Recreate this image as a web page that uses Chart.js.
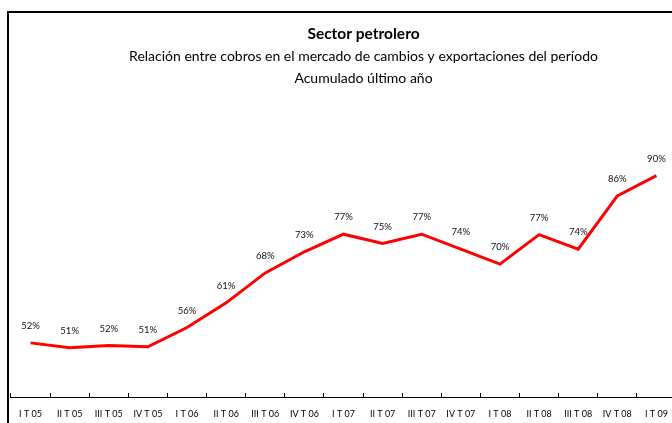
<!DOCTYPE html>
<html>
<head>
<meta charset="utf-8">
<script src="https://cdn.jsdelivr.net/npm/chart.js@4"></script>
<style>
  html, body { margin: 0; padding: 0; background: #fff; overflow: hidden; width: 672px; height: 423px; }
  canvas { position: absolute; left: 0; top: 0; }
  #frame { position: absolute; left: 7px; top: 11px; width: 800px; height: 600px;
           border-left: 2px solid #000; border-top: 2px solid #000; pointer-events: none; }
</style>
</head>
<body>
<canvas id="chart" width="720" height="423"></canvas>
<div id="frame"></div>
<script>
const quarters = ['I T 05', 'II T 05', 'III T 05', 'IV T 05', 'I T 06', 'II T 06', 'III T 06', 'IV T 06',
  'I T 07', 'II T 07', 'III T 07', 'IV T 07', 'I T 08', 'II T 08', 'III T 08', 'IV T 08', 'I T 09'];
// cobros / exportaciones, %
const ratio = [52.3, 51.2, 51.7, 51.4, 55.8, 61.4, 68.2, 73.0, 77.0, 74.9, 77.0, 73.6, 70.2, 76.9, 73.6, 85.7, 90.3];

const titleText = 'Sector petrolero';
const subtitleLines = ['Relación entre cobros en el mercado de cambios y exportaciones del período', 'Acumulado último año'];

const FONT = 'Lato, "Open Sans", sans-serif';

// titles, centred on the chart box (wider than the visible window)
const titles = {
  id: 'titles',
  afterDraw(chart) {
    const ctx = chart.ctx;
    ctx.save();
    ctx.fillStyle = '#000';
    ctx.textAlign = 'center';
    ctx.textBaseline = 'middle';
    ctx.font = 'bold 15.5px ' + FONT;
    ctx.fillText(titleText, 363.5, 34);
    ctx.font = '14px ' + FONT;
    subtitleLines.forEach((line, i) => ctx.fillText(line, 363.5, 56 + i * 22));
    ctx.restore();
  }
};

// percentage above each point
const valueLabels = {
  id: 'valueLabels',
  afterDatasetsDraw(chart) {
    const ctx = chart.ctx;
    const meta = chart.getDatasetMeta(0);
    ctx.save();
    ctx.font = '9.5px ' + FONT;
    ctx.fillStyle = '#111';
    ctx.textAlign = 'center';
    ctx.textBaseline = 'middle';
    meta.data.forEach((pt, i) => {
      ctx.fillText(Math.round(ratio[i]) + '%', pt.x, pt.y - 17);
    });
    ctx.restore();
  }
};

const ctx = document.getElementById('chart').getContext('2d');
const chart = new Chart(ctx, {
  type: 'line',
  data: {
    labels: quarters,
    datasets: [{
      data: ratio,
      borderColor: '#ff0000',
      borderWidth: 3,
      pointRadius: 0,
      tension: 0,
      fill: false
    }]
  },
  options: {
    responsive: false,
    animation: false,
    layout: { padding: { left: 11, right: 44, top: 133, bottom: 0 } },
    plugins: {
      legend: { display: false },
      title: { display: false },
      tooltip: { enabled: false }
    },
    scales: {
      x: {
        offset: true,
        grid: {
          offset: true,
          drawOnChartArea: false,
          drawTicks: true,
          tickLength: -4,
          color: '#000',
          lineWidth: 1
        },
        border: { display: true, color: '#000', width: 1 },
        ticks: {
          autoSkip: false,
          maxRotation: 0,
          padding: 16,
          color: '#000',
          font: { family: FONT, size: 9 }
        },
        afterFit(scale) { scale.height = 26; }
      },
      y: {
        display: false,
        min: 40,
        max: 100
      }
    }
  },
  plugins: [titles, valueLabels]
});
</script>
</body>
</html>
